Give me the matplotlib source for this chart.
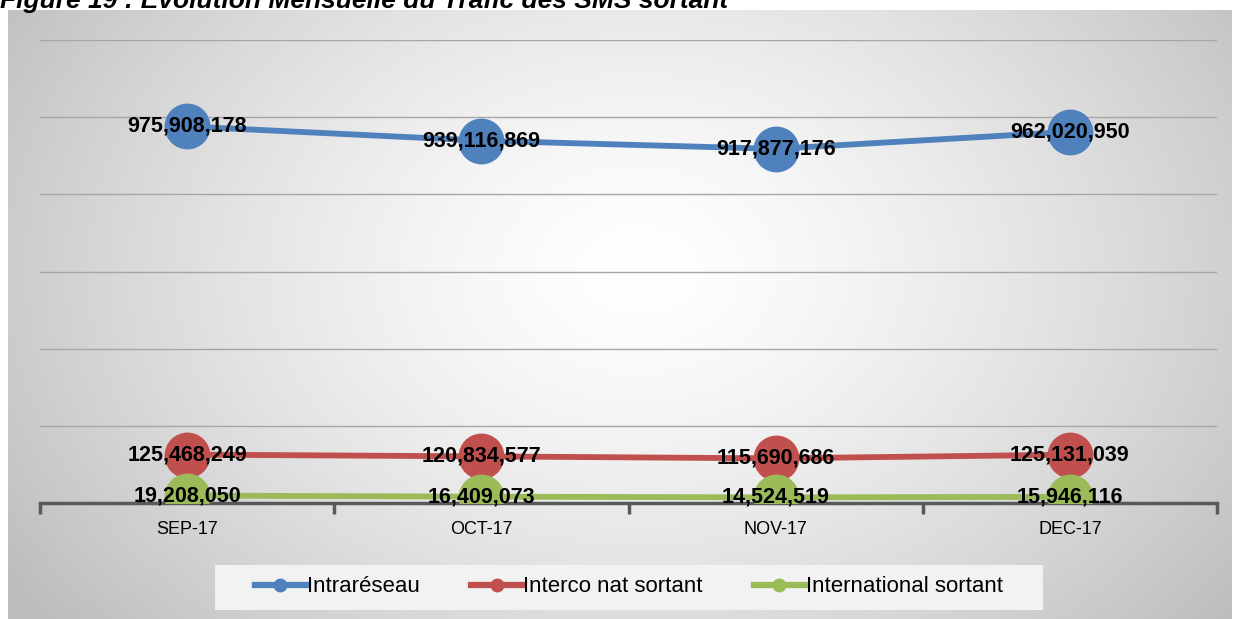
import numpy as np
import matplotlib.pyplot as plt
from matplotlib.lines import Line2D
from matplotlib.patches import Rectangle

months = ["SEP-17", "OCT-17", "NOV-17", "DEC-17"]
intrareseau = [975908178, 939116869, 917877176, 962020950]
interco = [125468249, 120834577, 115690686, 125131039]
international = [19208050, 16409073, 14524519, 15946116]

series = [
    ("Intraréseau", intrareseau, "#4f81bd"),
    ("Interco nat sortant", interco, "#c0504d"),
    ("International sortant", international, "#9bbb59"),
]

plt.rcParams['font.family'] = ['Liberation Sans', 'DejaVu Sans']

W, H = 1239, 619
fig = plt.figure(figsize=(W / 100, H / 100), dpi=100)

# radial gradient background of the chart area
bg = fig.add_axes([8 / W, 0, (1232 - 8) / W, 1 - 10 / H])
bg.set_axis_off()
yy, xx = np.mgrid[0:609, 0:1224]
r = np.sqrt(((xx - 630) / 760.0) ** 2 + ((yy - 260) / 560.0) ** 2)
r = np.clip(r, 0, 1)
shade = 1.0 - 0.26 * r ** 1.4
bg.imshow(np.dstack([shade] * 3), aspect="auto", extent=[0, 1, 0, 1])
bg.set_xlim(0, 1)
bg.set_ylim(0, 1)
# legend background box
bg.add_patch(Rectangle((215 / W, 1 - 610 / H), (1043 - 215) / W, 45 / H,
                       transform=fig.transFigure, facecolor="#f2f2f2",
                       edgecolor="none", zorder=5))

ax = fig.add_axes([40 / W, 1 - 503 / H, (1217 - 40) / W, (503 - 40) / H])
ax.patch.set_alpha(0)
x = np.arange(len(months))
for name, vals, col in series:
    ax.plot(x, vals, color=col, lw=4.2, marker="o", ms=32, zorder=3,
            solid_capstyle="round")
    for xi, v in zip(x, vals):
        ax.text(xi, v, f"{v:,}", ha="center", va="center", fontsize=15.5,
                fontweight="bold", color="black", zorder=5)

ax.set_xlim(-0.5, 3.5)
ax.set_ylim(0, 1.2e9)
ax.set_yticks(np.arange(0, 1.2e9 + 1, 2e8))
ax.yaxis.grid(True, color="#a6a6a6", lw=1)
ax.set_axisbelow(True)
ax.tick_params(axis="y", left=False, labelleft=False)
for s in ["top", "right", "left"]:
    ax.spines[s].set_visible(False)
ax.spines["bottom"].set_color("#595959")
ax.spines["bottom"].set_linewidth(2.5)
ax.spines["bottom"].set_zorder(2)

ax.set_xticks(np.arange(-0.5, 3.6, 1))
ax.set_xticklabels([])
ax.set_xticks(x, minor=True)
ax.set_xticklabels(months, minor=True, fontsize=13)
ax.tick_params(axis="x", which="major", length=8, width=2.5, color="#595959", direction="out")
ax.tick_params(axis="x", which="minor", length=0, pad=13)

handles = [Line2D([], [], color=c, lw=4.5, marker="o", ms=9) for _, _, c in series]
leg = fig.legend(handles, [n for n, _, _ in series], loc="center",
                 bbox_to_anchor=(629 / W, 1 - 587 / H), ncol=3, frameon=False,
                 prop={"size": 16},
                 handlelength=2.3, handletextpad=0.05, columnspacing=2.3,
                 borderpad=0.5, borderaxespad=0)

fig.text(0.0, 1 - 8 / H, "Figure 19 : Evolution Mensuelle du Trafic des SMS sortant",
         fontsize=19, fontweight="bold", style="italic", va="baseline", ha="left")

fig.savefig("out.png", dpi=100)
